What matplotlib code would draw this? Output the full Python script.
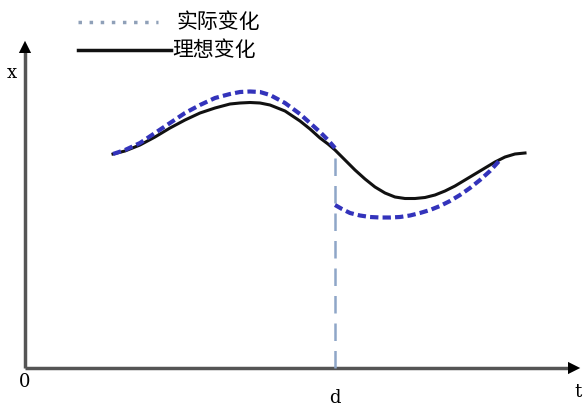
import matplotlib
matplotlib.use("Agg")
import matplotlib.pyplot as plt

plt.rcParams['font.family'] = ['Noto Sans CJK SC', 'DejaVu Sans']

# data (t, x) with origin at axes corner
ideal_t = [88, 100, 115, 130, 145, 160, 175, 190, 205, 215, 225, 235, 245, 260, 275, 285, 295, 303, 310,
           320, 330, 340, 350, 360, 370, 380, 390, 400, 410, 420, 430, 440, 450, 460, 470, 480, 490, 500]
ideal_x = [214, 217, 223, 231, 240, 248, 255, 260, 264, 265, 265.5, 265, 263, 257, 247, 239, 230, 224, 218,
           208, 198, 189, 181, 175, 171, 169.5, 169.5, 170.5, 173, 177, 182, 188, 194, 200, 206, 211, 214, 215]

actual1_t = [88, 100, 115, 130, 145, 160, 175, 190, 205, 215, 225, 235, 245, 260, 275, 285, 295, 303, 310]
actual1_x = [214, 218, 225, 235, 245, 255, 263, 270, 274, 276, 276.5, 276, 273, 265, 254, 245, 236, 228, 220]

actual2_t = [310, 317, 325, 335, 345, 355, 365, 375, 385, 395, 405, 415, 425, 435, 445, 455, 465, 475]
actual2_x = [163, 159, 155, 152.5, 151, 150.5, 150.5, 151, 152.5, 155, 158, 162, 167, 173, 180, 188, 197, 208]

d_t = 310
d_top = 218

labels = ["实际变化", "理想变化"]

fig = plt.figure(figsize=(5.85, 4.07), dpi=100)
ax = fig.add_axes([0, 0, 1, 1])
ax.set_xlim(-25, 560)
ax.set_ylim(-39, 368)
ax.axis('off')

# axes arrows
ax.plot([0, 548], [0, 0], color='#555555', lw=2.5, solid_capstyle='butt')
ax.plot([0, 0], [0, 318], color='#555555', lw=2.5, solid_capstyle='butt')
ax.annotate('', xy=(558, 0), xytext=(540, 0),
            arrowprops=dict(arrowstyle='-|>', color='black', lw=0, mutation_scale=22))
ax.annotate('', xy=(0, 330), xytext=(0, 312),
            arrowprops=dict(arrowstyle='-|>', color='black', lw=0, mutation_scale=22))

# vertical dashed line at d
ax.plot([d_t, d_t], [0, d_top], color='#8fa6c8', lw=1.8, ls=(0, (7, 4)))

# curves
ax.plot(ideal_t, ideal_x, color='#111111', lw=2.2, solid_joinstyle='round')
ax.plot(actual1_t, actual1_x, color='#3333bb', lw=3, ls=(0, (2, 1)))
ax.plot(actual2_t, actual2_x, color='#3333bb', lw=3, ls=(0, (2, 1)))

# legend
ax.plot([53, 133], [346, 346], color='#8fa0b8', lw=2.5, ls=(0, (1, 2.2)))
ax.text(152, 346, labels[0], fontsize=15, va='center', ha='left')
ax.plot([53, 146], [318, 318], color='#111111', lw=2.5)
ax.text(147, 318, labels[1], fontsize=15, va='center', ha='left')

# axis labels
ax.text(-13, 295, 'x', fontsize=13, family='DejaVu Serif', ha='center', va='center')
ax.text(0, -14, '0', fontsize=13, family='DejaVu Serif', ha='center', va='center')
ax.text(d_t, -30, 'd', fontsize=13, family='DejaVu Serif', ha='center', va='center')
ax.text(553, -24, 't', fontsize=13, family='DejaVu Serif', ha='center', va='center')

fig.savefig('out.png', dpi=100)
